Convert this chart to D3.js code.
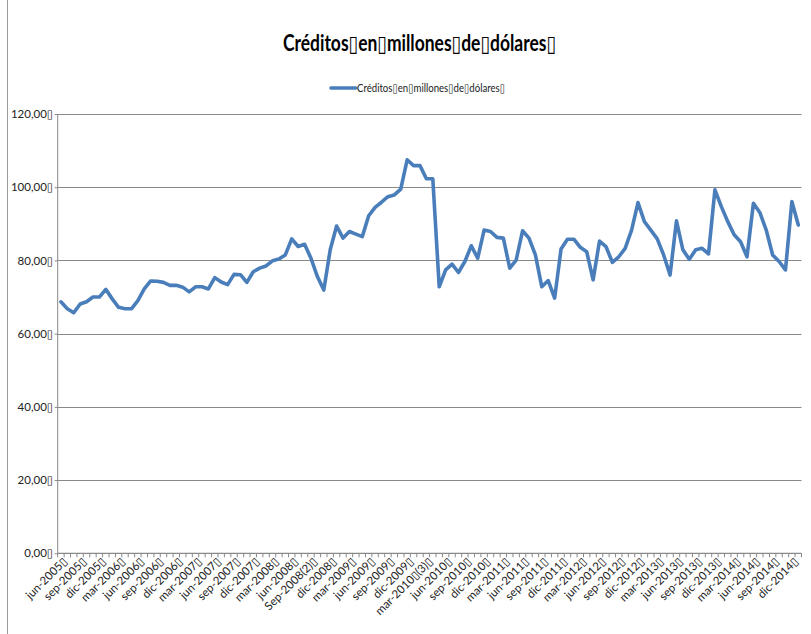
<!DOCTYPE html>
<html>
<head>
<meta charset="utf-8">
<script src="https://cdn.jsdelivr.net/npm/d3@7"></script>
<style>
  html, body { margin: 0; padding: 0; background: #fff; }
  svg { display: block; }
  text { font-family: Lato, "DejaVu Sans", sans-serif; }
</style>
</head>
<body>
<script>
// Monthly categories, June 2005 onward
const categories = [
  "jun-2005","jul-2005","ago-2005","sep-2005","oct-2005","nov-2005","dic-2005",
  "ene-2006","feb-2006","mar-2006","abr-2006","may-2006","jun-2006","jul-2006","ago-2006","sep-2006","oct-2006","nov-2006","dic-2006",
  "ene-2007","feb-2007","mar-2007","abr-2007","may-2007","jun-2007","jul-2007","ago-2007","sep-2007","oct-2007","nov-2007","dic-2007",
  "ene-2008","feb-2008","mar-2008","abr-2008","may-2008","jun-2008","jul-2008","ago-2008","Sep-2008(2)","oct-2008","nov-2008","dic-2008",
  "ene-2009","feb-2009","mar-2009","abr-2009","may-2009","jun-2009","jul-2009","ago-2009","sep-2009","oct-2009","nov-2009","dic-2009",
  "ene-2010","feb-2010","mar-2010 (3)","abr-2010","may-2010","jun-2010","jul-2010","ago-2010","sep-2010","oct-2010","nov-2010","dic-2010",
  "ene-2011","feb-2011","mar-2011","abr-2011","may-2011","jun-2011","jul-2011","ago-2011","sep-2011","oct-2011","nov-2011","dic-2011",
  "ene-2012","feb-2012","mar-2012","abr-2012","may-2012","jun-2012","jul-2012","ago-2012","sep-2012","oct-2012","nov-2012","dic-2012",
  "ene-2013","feb-2013","mar-2013","abr-2013","may-2013","jun-2013","jul-2013","ago-2013","sep-2013","oct-2013","nov-2013","dic-2013",
  "ene-2014","feb-2014","mar-2014","abr-2014","may-2014","jun-2014","jul-2014","ago-2014","sep-2014","oct-2014","nov-2014","dic-2014",
  "ene-2015"
];

// Credits, millions of dollars
const creditos = [
  68.7, 66.8, 65.7, 68.1, 68.7, 70.0, 70.0,
  72.1, 69.5, 67.2, 66.8, 66.8, 69.0, 72.2, 74.4, 74.3, 74.0, 73.2, 73.2,
  72.7, 71.4, 72.8, 72.8, 72.2, 75.3, 74.1, 73.4, 76.2, 76.1, 74.0, 76.9,
  77.9, 78.5, 79.9, 80.4, 81.5, 85.9, 83.8, 84.4, 80.6, 75.6, 71.9, 82.9,
  89.4, 86.1, 87.9, 87.2, 86.5, 92.2, 94.5, 95.9, 97.4, 97.9, 99.5, 107.5,
  105.9, 105.9, 102.3, 102.3, 72.8, 77.4, 79.0, 76.7, 79.7, 84.0, 80.6, 88.3,
  87.9, 86.3, 86.1, 77.9, 80.1, 88.1, 86.1, 81.5, 72.8, 74.5, 69.7, 83.1,
  85.8, 85.8, 83.6, 82.4, 74.7, 85.3, 83.8, 79.5, 81.0, 83.3, 88.3, 95.8,
  90.6, 88.3, 85.9, 81.5, 76.0, 90.8, 82.9, 80.3, 82.9, 83.3, 81.8, 99.3,
  94.7, 90.6, 87.0, 85.1, 81.0, 95.6, 93.1, 88.3, 81.5, 79.7, 77.4, 96.1,
  89.7
];

// Labelled categories on the horizontal axis (every third month)
const xTickLabels = [
  "jun-2005","sep-2005","dic-2005","mar-2006","jun-2006","sep-2006","dic-2006",
  "mar-2007","jun-2007","sep-2007","dic-2007","mar-2008","jun-2008","Sep-2008(2)",
  "dic-2008","mar-2009","jun-2009","sep-2009","dic-2009","mar-2010 (3)","jun-2010",
  "sep-2010","dic-2010","mar-2011","jun-2011","sep-2011","dic-2011","mar-2012",
  "jun-2012","sep-2012","dic-2012","mar-2013","jun-2013","sep-2013","dic-2013",
  "mar-2014","jun-2014","sep-2014","dic-2014"
];

const yTicks = [0, 20, 40, 60, 80, 100, 120];

const seriesName = "Créditos en millones de dólares";
const chartTitle = "Créditos en millones de dólares";

// Unrendered characters show as boxes in the source workbook's text
const BOX = "\u25AF";
const boxed = s => s.replace(/ /g, BOX) + BOX;

const W = 811, H = 634;
const plot = { left: 57.7, right: 801.5, top: 114, bottom: 553.3 };
const lineColor = "#4A7EBB";
const gridColor = "#898989";

const svg = d3.select("body").append("svg")
  .attr("width", W).attr("height", H);

// chart area frame
svg.append("line")
  .attr("x1", 7.5).attr("x2", 7.5).attr("y1", 0).attr("y2", H)
  .attr("stroke", "#9a9a9a").attr("stroke-width", 1);

const x = d3.scaleBand()
  .domain(categories)
  .range([plot.left, plot.right])
  .padding(0);

const y = d3.scaleLinear()
  .domain([0, 120])
  .range([plot.bottom, plot.top]);

const es = d3.formatLocale({ decimal: ",", thousands: ".", grouping: [3], currency: ["", ""] });
const fmt = es.format(",.2f");

// value axis labels and small outer ticks
const yAxis = svg.append("g")
  .attr("transform", `translate(${plot.left},0)`)
  .call(d3.axisLeft(y).tickValues(yTicks).tickSizeInner(3).tickSizeOuter(0)
    .tickFormat(d => fmt(d) + BOX));
yAxis.select(".domain").remove();
yAxis.selectAll(".tick line").attr("stroke", gridColor);
yAxis.selectAll(".tick text")
  .attr("x", -4.5)
  .attr("font-size", 11.5)
  .attr("font-family", "Lato, 'DejaVu Sans', sans-serif")
  .attr("fill", "#222");

// horizontal gridlines
svg.append("g").selectAll("line")
  .data(yTicks.filter(d => d > 0))
  .join("line")
  .attr("x1", plot.left).attr("x2", plot.right)
  .attr("y1", d => Math.round(y(d)) + 0.5).attr("y2", d => Math.round(y(d)) + 0.5)
  .attr("stroke", gridColor).attr("stroke-width", 1);

// vertical axis line
svg.append("line")
  .attr("x1", plot.left).attr("x2", plot.left)
  .attr("y1", plot.top).attr("y2", plot.bottom)
  .attr("stroke", gridColor).attr("stroke-width", 1);

// category axis line and ticks at band edges
const gx = svg.append("g");
gx.append("line")
  .attr("x1", plot.left).attr("x2", plot.right)
  .attr("y1", plot.bottom).attr("y2", plot.bottom)
  .attr("stroke", gridColor).attr("stroke-width", 1.2);
const edges = categories.map(c => x(c)).concat([x(categories[categories.length - 1]) + x.bandwidth()]);
gx.selectAll("line.tk")
  .data(edges)
  .join("line")
  .attr("class", "tk")
  .attr("x1", d => d).attr("x2", d => d)
  .attr("y1", plot.bottom).attr("y2", plot.bottom + 4)
  .attr("stroke", gridColor).attr("stroke-width", 1);

// rotated category labels
gx.selectAll("text")
  .data(xTickLabels)
  .join("text")
  .attr("transform", d => `translate(${x(d) + x.bandwidth() / 2 + 7},${plot.bottom + 9}) rotate(-45)`)
  .attr("text-anchor", "end")
  .attr("font-size", 11.5)
  .attr("fill", "#222")
  .text(d => boxed(d));

// the series line
const line = d3.line()
  .x((d, i) => x(categories[i]) + x.bandwidth() / 2)
  .y(d => y(d));
svg.append("path")
  .datum(creditos)
  .attr("d", line)
  .attr("fill", "none")
  .attr("stroke", lineColor)
  .attr("stroke-width", 3.6)
  .attr("stroke-linejoin", "round")
  .attr("stroke-linecap", "round");

// title, compressed to the width of the narrow heading face
svg.append("text")
  .attr("x", 419.5).attr("y", 51)
  .attr("text-anchor", "middle")
  .attr("font-weight", "bold")
  .attr("font-size", 22)
  .attr("textLength", 273)
  .attr("lengthAdjust", "spacingAndGlyphs")
  .attr("fill", "#000")
  .text(boxed(chartTitle));

// legend
const lg = svg.append("g");
lg.append("line")
  .attr("x1", 331).attr("x2", 356)
  .attr("y1", 88).attr("y2", 88)
  .attr("stroke", lineColor).attr("stroke-width", 3.6)
  .attr("stroke-linecap", "round");
lg.append("text")
  .attr("x", 357).attr("y", 92)
  .attr("font-size", 11.5)
  .attr("textLength", 148)
  .attr("lengthAdjust", "spacingAndGlyphs")
  .attr("fill", "#222")
  .text(boxed(seriesName));
</script>
</body>
</html>
